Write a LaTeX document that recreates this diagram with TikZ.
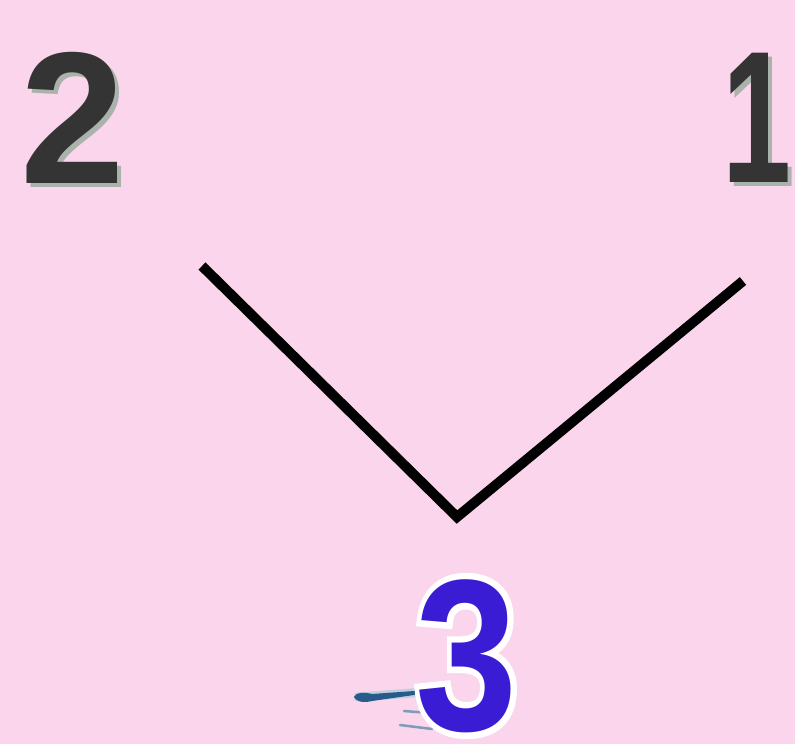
\documentclass[tikz,border=0pt]{standalone}
\usepackage{fontspec}
\setmainfont{Liberation Sans}
\newfontfamily\glowfont[FakeBold=6]{Liberation Sans Bold}
\definecolor{bgpink}{RGB}{250,213,236}
\definecolor{digitgray}{RGB}{52,52,52}
\definecolor{shadowgray}{RGB}{170,178,172}
\definecolor{violetblue}{RGB}{58,28,212}
\definecolor{splashblue}{RGB}{40,90,140}
\tikzset{
  digit/.style={inner sep=0pt, font=\fontsize{188}{188}\selectfont\bfseries},
  bigdigit/.style={inner sep=0pt, xscale=0.85, transform shape, font=\fontsize{216}{216}\selectfont\bfseries},
}
\begin{document}
\begin{tikzpicture}[x=1pt, y=-1pt]
    % Background
    \fill[bgpink] (0,0) rectangle (795,744);
    \useasboundingbox (0,0) rectangle (795,744);

    % The top labels, with their shadows
    \node[digit, shadowgray] at (77,122) {2};
    \node[digit, digitgray] (two) at (73,118) {2};
    \node[digit, shadowgray, xscale=0.66, transform shape] at (761,122) {1};
    \node[digit, digitgray, xscale=0.66, transform shape] (one) at (757,118) {1};

    % The angle
    \coordinate (leftend) at (202,266);
    \coordinate (vertex) at (457,517);
    \coordinate (rightend) at (743,281);
    \draw[line width=10pt, line join=miter] (leftend) -- (vertex) -- (rightend);

    % Splash left of the 3
    \draw[splashblue!30, line width=9pt, line cap=round] (358,697) -- (425,692);
    \fill[splashblue] (354,697) .. controls (356,692) and (364,692) .. (372,694) -- (428,690) -- (428,693) -- (372,701) .. controls (364,703) and (356,702) .. cycle;
    \draw[splashblue!60, line width=2.5pt, line cap=round] (404,711) -- (430,713);
    \draw[splashblue!60, line width=2.5pt, line cap=round] (400,725) -- (432,729);

    % White glow round the 3, then the 3
    \node[bigdigit, white, font=\fontsize{216}{216}\selectfont\glowfont] at (467,656) {3};
    \node[bigdigit, violetblue] (three) at (467,656) {3};
\end{tikzpicture}
\end{document}
